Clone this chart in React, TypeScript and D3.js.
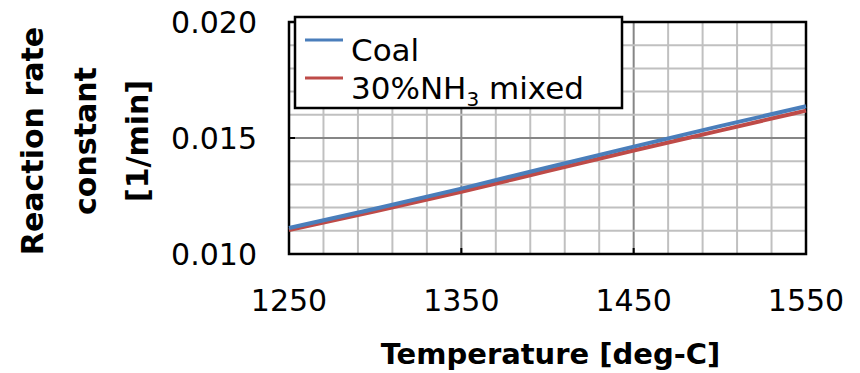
import React from "react";
import * as d3 from "d3";

const temps = [1250, 1300, 1350, 1400, 1450, 1500, 1550];
const coal = [0.01112, 0.01195, 0.01282, 0.01373, 0.01463, 0.01551, 0.01637];
const nh3 = [0.01103, 0.01184, 0.01268, 0.01358, 0.01446, 0.01532, 0.01618];
const xTicks = [1250, 1350, 1450, 1550];
const yTicks = [0.01, 0.015, 0.02];
const xMinor = d3.range(1250, 1551, 20);
const yMinor = d3.range(0, 11).map((i) => 0.01 + i * 0.001);

const W = 860, H = 373;
const L = 289, R = 806, T = 22, B = 254;
const FONT = "'DejaVu Sans', Verdana, sans-serif";

export default function App() {
  const x = d3.scaleLinear().domain([1250, 1550]).range([L, R]);
  const y = d3.scaleLinear().domain([0.01, 0.02]).range([B, T]);
  const line = d3
    .line<number>()
    .x((_, i) => x(temps[i]))
    .y((d) => y(d))
    .curve(d3.curveMonotoneX);
  const isMajorX = (v: number) => xTicks.includes(v);
  const isMajorY = (v: number) => yTicks.some((t) => Math.abs(t - v) < 1e-9);
  return (
    <svg width={W} height={H} style={{ position: "absolute", left: 0, top: 0, background: "#fff" }}>
      <rect x={0} y={0} width={W} height={H} fill="#fff" />
      {xMinor.map((v) => (
        <line key={"xg" + v} x1={x(v)} x2={x(v)} y1={T} y2={B}
          stroke={isMajorX(v) ? "#868686" : "#c0c0c0"} strokeWidth={2} />
      ))}
      {yMinor.map((v, i) => (
        <line key={"yg" + i} x1={L} x2={R} y1={y(v)} y2={y(v)}
          stroke={isMajorY(v) ? "#868686" : "#c0c0c0"} strokeWidth={2} />
      ))}
      {xTicks.map((v) => (
        <line key={"xt" + v} x1={x(v)} x2={x(v)} y1={B} y2={B - 6} stroke="#000" strokeWidth={2} />
      ))}
      {yTicks.map((v) => (
        <line key={"yt" + v} x1={L} x2={L + 6} y1={y(v)} y2={y(v)} stroke="#000" strokeWidth={2} />
      ))}
      <rect x={L} y={T} width={R - L} height={B - T} fill="none" stroke="#000" strokeWidth={2.5} />
      <path d={line(nh3) || ""} fill="none" stroke="#BE4B48" strokeWidth={4} />
      <path d={line(coal) || ""} fill="none" stroke="#4A7EBB" strokeWidth={4} />
      {xTicks.map((v) => (
        <text key={"xl" + v} x={x(v)} y={311} textAnchor="middle" fontFamily={FONT} fontSize={30} fill="#000">
          {v}
        </text>
      ))}
      {yTicks.map((v) => (
        <text key={"yl" + v} x={257} y={y(v) + 11} textAnchor="end" fontFamily={FONT} fontSize={30} fill="#000">
          {d3.format(".3f")(v)}
        </text>
      ))}
      <text x={(L + R) / 2 + 3} y={364} textAnchor="middle" fontFamily={FONT} fontSize={29} fontWeight="bold" fill="#000">
        Temperature [deg-C]
      </text>
      <g transform={`translate(0, ${(T + B) / 2 + 3}) rotate(-90)`}>
        <text x={0} y={43} textAnchor="middle" fontFamily={FONT} fontSize={30} fontWeight="bold">Reaction rate</text>
        <text x={0} y={96} textAnchor="middle" fontFamily={FONT} fontSize={30} fontWeight="bold">constant</text>
        <text x={0} y={148} textAnchor="middle" fontFamily={FONT} fontSize={30} fontWeight="bold">[1/min]</text>
      </g>
      <rect x={295} y={17} width={327} height={91} fill="#fff" stroke="#000" strokeWidth={2.5} />
      <line x1={305} x2={343} y1={40} y2={40} stroke="#4A7EBB" strokeWidth={3} />
      <line x1={305} x2={343} y1={78} y2={78} stroke="#BE4B48" strokeWidth={3} />
      <text x={351} y={61} fontFamily={FONT} fontSize={31} fill="#000">Coal</text>
      <text x={351} y={99} fontFamily={FONT} fontSize={31} fill="#000">
        30%NH<tspan fontSize={20} dy={7}>3</tspan><tspan dy={-7}> mixed</tspan>
      </text>
    </svg>
  );
}
